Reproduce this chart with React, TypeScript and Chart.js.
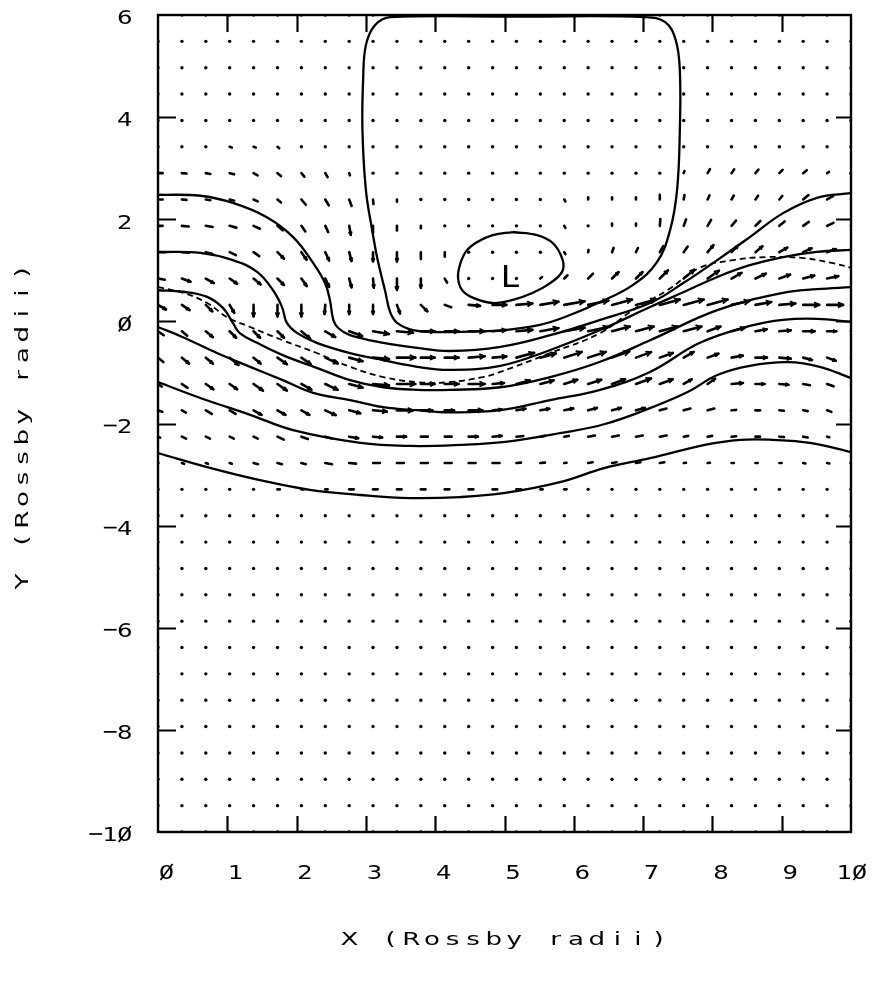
import React, { useEffect, useRef } from "react";
import { Chart, registerables } from "chart.js";

Chart.register(...registerables);

// ---------- axes ----------
const X_MIN = 0;
const X_MAX = 10;
const Y_MIN = -10;
const Y_MAX = 6;
const X_STEP = 1;
const Y_STEP = 2;
const X_TITLE = "X (Rossby radii)";
const Y_TITLE = "Y (Rossby radii)";
const LOW_LABEL = "L";
const LOW_POS = [5.08, 0.89];

// ---------- velocity grid (30 x 32 nodes) ----------
const GRID_X = [0, 0.345, 0.69, 1.034, 1.379, 1.724, 2.069, 2.414, 2.759, 3.103, 3.448, 3.793, 4.138, 4.483, 4.828, 5.172, 5.517, 5.862, 6.207, 6.552, 6.897, 7.241, 7.586, 7.931, 8.276, 8.621, 8.966, 9.31, 9.655, 10];
const GRID_Y = [6, 5.484, 4.968, 4.452, 3.935, 3.419, 2.903, 2.387, 1.871, 1.355, 0.839, 0.323, -0.194, -0.71, -1.226, -1.742, -2.258, -2.774, -3.29, -3.806, -4.323, -4.839, -5.355, -5.871, -6.387, -6.903, -7.419, -7.935, -8.452, -8.968, -9.484, -10];

// flow direction (degrees, counter-clockwise from east) and speed for the rows that move;
// every other node is at rest (drawn as a dot)
const FLOW_ROWS = [
  { row: 5, angle: [0, 0, 0, -20, -20, -40, 0, 0, 0, 0, 0, 0, 0, 0, 0, 0, 0, 0, 0, 0, 0, 0, 0, 0, 0, 0, 0, 0, 0, 0],
    speed: [0, 0, 0, 1, 1, 1, 0, 0, 0, 0, 0, 0, 0, 0, 0, 0, 0, 0, 0, 0, 0, 0, 0, 0, 0, 0, 0, 0, 0, 0] },
  { row: 6, angle: [0, -5, -10, -15, -30, -40, -50, -60, -70, 0, 0, 0, 0, 0, 0, 0, 0, 0, 0, 0, 0, 0, 70, 60, 55, 50, 45, 40, 35, 30],
    speed: [2, 2, 2, 2, 2, 2, 2, 2, 1, 0, 0, 0, 0, 0, 0, 0, 0, 0, 0, 0, 0, 0, 1, 2, 2, 2, 2, 2, 1, 0] },
  { row: 7, angle: [0, -5, -10, -15, -25, -40, -50, -60, -70, -85, -90, 0, 0, 0, 0, 0, 0, -60, 90, 90, 90, 90, 80, 65, 60, 55, 50, 40, 30, 25],
    speed: [2, 2, 2, 2, 2, 2, 3, 3, 3, 2, 1, 0, 0, 0, 0, 0, 0, 1, 1, 1, 1, 2, 2, 2, 2, 2, 2, 3, 3, 2] },
  { row: 8, angle: [0, -5, -10, -15, -25, -40, -55, -65, -80, -90, -90, -90, 0, 0, 0, 0, 0, -60, 0, 90, 90, 85, 70, 60, 50, 45, 40, 35, 25, 20],
    speed: [2, 3, 3, 3, 3, 3, 3, 3, 4, 3, 2, 1, 0, 0, 0, 0, 0, 1, 0, 1, 1, 3, 3, 3, 3, 3, 3, 3, 3, 3] },
  { row: 9, angle: [0, -5, -15, -25, -35, -45, -55, -65, -75, -90, -90, -90, -90, 0, 0, 0, 0, -60, 80, 70, 65, 60, 55, 50, 45, 40, 30, 25, 20, 15],
    speed: [3, 3, 3, 3, 3, 4, 4, 4, 4, 4, 4, 3, 2, 0, 0, 0, 0, 1, 1, 2, 2, 3, 3, 4, 4, 4, 4, 4, 4, 3] },
  { row: 10, angle: [-10, -20, -30, -35, -40, -45, -55, -65, -75, -85, -90, -90, -60, 0, 0, 0, 40, 45, 45, 45, 45, 45, 40, 35, 30, 25, 20, 15, 12, 10],
    speed: [3, 4, 4, 4, 4, 4, 4, 4, 4, 4, 5, 4, 2, 0, 0, 0, 1, 2, 3, 4, 4, 5, 6, 6, 5, 5, 5, 5, 5, 4] },
  { row: 11, angle: [-30, -35, -45, -60, -90, -90, -90, -95, -90, -90, -70, -45, -20, -5, 0, 5, 10, 10, 12, 15, 15, 15, 15, 15, 12, 10, 5, 0, 0, 0],
    speed: [4, 4, 4, 4, 5, 5, 5, 4, 4, 4, 4, 4, 3, 5, 6, 7, 8, 9, 9, 9, 9, 9, 9, 9, 8, 7, 7, 7, 7, 6] },
  { row: 12, angle: [-35, -40, -40, -45, -45, -45, -40, -30, -20, -10, -5, 0, 0, 0, 5, 5, 10, 10, 12, 15, 15, 15, 15, 20, 15, 10, 5, 0, 0, 0],
    speed: [3, 3, 4, 4, 4, 4, 5, 5, 6, 7, 7, 6, 6, 7, 6, 7, 8, 9, 9, 8, 8, 8, 8, 6, 6, 5, 5, 5, 4, 4] },
  { row: 13, angle: [-40, -40, -40, -40, -40, -35, -35, -25, -15, -5, 0, 0, 0, 5, 5, 15, 15, 18, 18, 20, 20, 20, 30, 20, 10, 0, -5, -15, -20, -20],
    speed: [3, 4, 4, 5, 4, 5, 5, 6, 6, 7, 8, 6, 6, 7, 6, 8, 7, 8, 8, 8, 7, 6, 5, 5, 5, 5, 5, 4, 4, 4] },
  { row: 14, angle: [-35, -35, -35, -35, -35, -35, -30, -25, -15, -5, 0, 0, 0, 0, 5, 15, 15, 18, 18, 20, 20, 20, 30, 35, 5, 0, -5, -10, -20, -20],
    speed: [2, 3, 4, 4, 5, 5, 5, 6, 6, 7, 8, 6, 6, 7, 5, 6, 6, 6, 6, 6, 7, 6, 4, 4, 5, 4, 4, 3, 3, 3] },
  { row: 15, angle: [-20, -30, -30, -30, -30, -30, -30, -25, -15, -5, 0, 0, 0, 0, 5, 10, 10, 12, 15, 15, 15, 15, 15, 15, 5, 0, -5, -10, -20, -20],
    speed: [2, 2, 3, 3, 4, 4, 4, 5, 5, 6, 7, 5, 4, 6, 4, 4, 4, 4, 4, 4, 4, 3, 3, 3, 2, 2, 2, 2, 2, 2] },
  { row: 16, angle: [-25, -25, -25, -25, -25, -25, -20, -15, -10, -5, 0, 0, 0, 0, 5, 5, 10, 10, 10, 10, 10, 10, 10, 10, 5, 0, -5, -10, -15, -15],
    speed: [1, 2, 2, 2, 2, 3, 3, 3, 4, 4, 4, 3, 3, 4, 4, 3, 2, 2, 3, 3, 3, 3, 2, 2, 2, 2, 2, 2, 1, 1] },
  { row: 17, angle: [-20, -20, -20, -20, -15, -15, -15, -10, -5, 0, 0, 0, 0, 0, 0, 5, 5, 5, 10, 10, 10, 10, 5, 5, 0, 0, 0, -10, -10, 0],
    speed: [0, 1, 1, 1, 2, 2, 2, 3, 3, 3, 3, 3, 3, 3, 3, 2, 2, 1, 2, 2, 2, 2, 1, 1, 1, 1, 1, 1, 1, 0] },
  { row: 18, angle: [0, 0, 0, 0, 0, 0, 0, 0, 0, 0, 0, 0, 0, 0, 0, 0, 0, 0, 0, 0, 0, 0, 0, 0, 0, 0, 0, 0, 0, 0],
    speed: [0, 0, 0, 0, 0, 1, 1, 1, 2, 2, 2, 2, 2, 2, 2, 2, 1, 1, 0, 0, 0, 0, 0, 0, 0, 0, 0, 0, 0, 0] },
];

// ---------- contours (x, y in Rossby radii) ----------
const CONTOUR_TOP = [[5.2, 5.97], [3.35, 5.96], [3.13, 5.8], [3.0, 5.41], [2.96, 4.73], [2.95, 3.75], [3.0, 2.57], [3.09, 1.79], [3.17, 1.2], [3.28, 0.58], [3.35, 0.18], [3.45, -0.03], [3.68, -0.17], [4.07, -0.21], [4.5, -0.2], [5.01, -0.17], [5.51, -0.07], [5.9, 0.1], [6.38, 0.38], [6.85, 0.71], [7.2, 1.16], [7.39, 1.79], [7.49, 2.57], [7.53, 3.75], [7.53, 4.92], [7.47, 5.51], [7.32, 5.86], [7.03, 5.96], [5.2, 5.97]];
const CONTOUR_LOW = [[5.12, 1.75], [5.47, 1.69], [5.7, 1.53], [5.84, 1.2], [5.83, 0.97], [5.66, 0.75], [5.41, 0.56], [5.12, 0.42], [4.83, 0.36], [4.55, 0.46], [4.39, 0.61], [4.33, 0.85], [4.36, 1.12], [4.45, 1.38], [4.6, 1.55], [4.83, 1.69], [5.12, 1.75]];
const CONTOUR_1 = [[0, 2.48], [0.61, 2.46], [1.08, 2.32], [1.57, 2.04], [1.95, 1.65], [2.24, 1.14], [2.41, 0.75], [2.48, 0.42], [2.53, 0.03], [2.6, -0.13], [2.77, -0.27], [3.25, -0.42], [3.74, -0.52], [4.21, -0.58], [4.94, -0.5], [5.66, -0.27], [6.38, 0.03], [7.1, 0.36], [7.58, 0.75], [8.07, 1.2], [8.54, 1.65], [9.02, 2.12], [9.51, 2.42], [10, 2.51]];
const CONTOUR_2 = [[0, 1.36], [0.61, 1.34], [1.08, 1.2], [1.43, 0.97], [1.66, 0.61], [1.79, 0.28], [1.86, -0.03], [2.01, -0.23], [2.29, -0.42], [2.77, -0.62], [3.25, -0.76], [3.74, -0.89], [4.21, -0.95], [4.94, -0.87], [5.66, -0.56], [6.38, -0.17], [7.1, 0.28], [7.58, 0.57], [8.07, 0.87], [8.54, 1.1], [9.02, 1.26], [9.51, 1.36], [10, 1.4]];
const CONTOUR_3 = [[0, 0.61], [0.36, 0.58], [0.71, 0.48], [0.94, 0.26], [1.08, -0.03], [1.18, -0.23], [1.43, -0.42], [1.8, -0.66], [2.29, -0.91], [2.77, -1.15], [3.25, -1.29], [3.74, -1.34], [4.21, -1.34], [4.94, -1.29], [5.66, -1.09], [6.38, -0.79], [7.1, -0.37], [8.07, 0.22], [9.02, 0.56], [9.51, 0.63], [10, 0.67]];
const CONTOUR_4 = [[0, -0.11], [0.36, -0.31], [0.85, -0.62], [1.33, -0.89], [1.8, -1.15], [2.24, -1.4], [2.77, -1.54], [3.25, -1.68], [3.74, -1.74], [4.21, -1.78], [4.94, -1.74], [5.66, -1.54], [6.38, -1.34], [7.1, -0.99], [7.82, -0.42], [8.54, -0.09], [9.02, 0.03], [9.51, 0.05], [10, -0.01]];
const CONTOUR_5 = [[0, -1.19], [0.61, -1.5], [1.33, -1.83], [1.95, -2.13], [2.92, -2.38], [3.64, -2.44], [4.36, -2.42], [5.01, -2.36], [5.8, -2.19], [6.45, -2.01], [7.1, -1.7], [7.65, -1.38], [8.07, -1.05], [8.54, -0.87], [9.09, -0.8], [9.55, -0.89], [10, -1.11]];
const CONTOUR_6 = [[0, -2.58], [0.75, -2.87], [1.47, -3.11], [2.19, -3.3], [2.92, -3.4], [3.64, -3.46], [4.36, -3.44], [5.01, -3.36], [5.8, -3.15], [6.45, -2.87], [7.1, -2.68], [7.89, -2.42], [8.4, -2.32], [8.86, -2.32], [9.41, -2.38], [10, -2.56]];
const DASHED_LINE = [[0, 0.67], [0.36, 0.56], [0.71, 0.36], [1.0, 0.08], [1.33, -0.11], [1.8, -0.37], [2.29, -0.62], [2.77, -0.89], [3.25, -1.09], [3.74, -1.19], [4.21, -1.19], [4.69, -1.09], [4.94, -0.99], [5.66, -0.62], [6.38, -0.23], [6.85, 0.22], [7.35, 0.61], [7.82, 1.05], [8.3, 1.2], [8.79, 1.26], [9.31, 1.24], [9.74, 1.14], [10, 1.05]];

const SOLID_CONTOURS = [CONTOUR_TOP, CONTOUR_LOW, CONTOUR_1, CONTOUR_2, CONTOUR_3, CONTOUR_4, CONTOUR_5, CONTOUR_6];

// ---------- styling ----------
const INK = "#000";
const FONT = "'DejaVu Sans', 'Liberation Sans', sans-serif";
const VEC_PX = 2.3;

// draw one glyph of the plotter-style lettering, widened horizontally by `wide`
function drawChar(ctx: CanvasRenderingContext2D, ch: string, cx: number, cy: number, fs: number, wide: number) {
  if (ch === "-") {
    ctx.save();
    ctx.lineWidth = Math.max(1.6, fs * 0.085);
    ctx.beginPath();
    ctx.moveTo(cx - fs * 0.32, cy);
    ctx.lineTo(cx + fs * 0.32, cy);
    ctx.stroke();
    ctx.restore();
    return;
  }
  ctx.save();
  ctx.translate(cx, cy + fs * 0.365);
  ctx.scale(wide, 1);
  ctx.fillText(ch, 0, 0);
  ctx.restore();
  if (ch === "0") {
    ctx.save();
    ctx.lineWidth = Math.max(1.4, fs * 0.085);
    ctx.beginPath();
    ctx.moveTo(cx - fs * 0.3, cy + fs * 0.4);
    ctx.lineTo(cx + fs * 0.3, cy - fs * 0.4);
    ctx.stroke();
    ctx.restore();
  }
}

function monoText(ctx: CanvasRenderingContext2D, s: string, x: number, cy: number, pitch: number, fs: number, wide: number, align: "left" | "right" | "center") {
  const w = s.length * pitch;
  const x0 = align === "left" ? x : align === "right" ? x - w : x - w / 2;
  ctx.textAlign = "center";
  ctx.textBaseline = "alphabetic";
  for (let i = 0; i < s.length; i++) {
    if (s[i] === " ") continue;
    drawChar(ctx, s[i], x0 + pitch * (i + 0.5), cy, fs, wide);
  }
}

const fieldPlugin = {
  id: "velocityField",
  beforeDatasetsDraw(chart: any) {
    const { ctx, chartArea: a } = chart;
    const sx = chart.scales.x;
    const sy = chart.scales.y;
    ctx.save();
    ctx.beginPath();
    ctx.rect(a.left, a.top, a.right - a.left, a.bottom - a.top);
    ctx.clip();
    ctx.strokeStyle = INK;
    ctx.fillStyle = INK;
    ctx.lineCap = "round";
    ctx.lineJoin = "round";
    for (let j = 0; j < GRID_Y.length; j++) {
      const row = FLOW_ROWS.find((r) => r.row === j);
      for (let i = 0; i < GRID_X.length; i++) {
        const px = sx.getPixelForValue(GRID_X[i]);
        const py = sy.getPixelForValue(GRID_Y[j]);
        const sp = row ? row.speed[i] : 0;
        if (!sp) {
          ctx.beginPath();
          ctx.arc(px, py, 1.7, 0, Math.PI * 2);
          ctx.fill();
          continue;
        }
        const ang = ((row ? row.angle[i] : 0) * Math.PI) / 180;
        const L = sp * VEC_PX;
        const ex = px + L * Math.cos(ang);
        const ey = py - L * Math.sin(ang);
        ctx.lineWidth = 2.6;
        ctx.beginPath();
        ctx.moveTo(px, py);
        ctx.lineTo(ex, ey);
        ctx.stroke();
        if (L >= 9) {
          const h = Math.min(5.5, L * 0.32);
          ctx.lineWidth = 1.8;
          for (const s of [-1, 1]) {
            const b = ang + Math.PI - s * 0.45;
            ctx.beginPath();
            ctx.moveTo(ex, ey);
            ctx.lineTo(ex + h * Math.cos(b), ey - h * Math.sin(b));
            ctx.stroke();
          }
        }
      }
    }
    ctx.restore();
  },
};

const framePlugin = {
  id: "plotterFrame",
  afterDraw(chart: any) {
    const { ctx, chartArea: a } = chart;
    const sx = chart.scales.x;
    const sy = chart.scales.y;
    ctx.save();
    ctx.strokeStyle = INK;
    ctx.fillStyle = INK;
    ctx.lineCap = "butt";
    // frame
    ctx.lineWidth = 2.4;
    ctx.strokeRect(a.left, a.top, a.right - a.left, a.bottom - a.top);
    // inward ticks
    ctx.lineWidth = 2.2;
    for (const t of sx.ticks) {
      if (t.value <= X_MIN || t.value >= X_MAX) continue;
      const px = Math.round(sx.getPixelForValue(t.value)) + 0.5;
      ctx.beginPath();
      ctx.moveTo(px, a.bottom);
      ctx.lineTo(px, a.bottom - 16);
      ctx.moveTo(px, a.top);
      ctx.lineTo(px, a.top + 17);
      ctx.stroke();
    }
    for (const t of sy.ticks) {
      if (t.value <= Y_MIN || t.value >= Y_MAX) continue;
      const py = Math.round(sy.getPixelForValue(t.value)) + 0.5;
      ctx.beginPath();
      ctx.moveTo(a.left, py);
      ctx.lineTo(a.left + 18, py);
      ctx.moveTo(a.right, py);
      ctx.lineTo(a.right - 15, py);
      ctx.stroke();
    }
    // tick labels
    const fs = 20;
    ctx.font = `${fs}px ${FONT}`;
    for (const t of sx.ticks) {
      const px = sx.getPixelForValue(t.value);
      monoText(ctx, String(t.value), px + 16, 872, 15, fs, 1.22, "right");
    }
    for (const t of sy.ticks) {
      const py = sy.getPixelForValue(t.value);
      monoText(ctx, String(t.value), 132, py + 2, 14.5, fs, 1.22, "right");
    }
    // axis titles
    const tfs = 18;
    ctx.font = `${tfs}px ${FONT}`;
    monoText(ctx, X_TITLE, 504, 938, 20.6, tfs, 1.45, "center");
    ctx.save();
    ctx.translate(21, 427);
    ctx.rotate(-Math.PI / 2);
    monoText(ctx, Y_TITLE, 0, 0, 20.6, tfs, 1.45, "center");
    ctx.restore();
    // low marker
    const lfs = 30;
    ctx.font = `${lfs}px ${FONT}`;
    monoText(ctx, LOW_LABEL, sx.getPixelForValue(LOW_POS[0]), sy.getPixelForValue(LOW_POS[1]), 20, lfs, 1.1, "center");
    ctx.restore();
  },
};

export default function App() {
  const ref = useRef<HTMLCanvasElement>(null);
  useEffect(() => {
    document.body.style.margin = "0";
    const toPts = (arr: number[][]) => arr.map((p) => ({ x: p[0], y: p[1] }));
    const datasets: any[] = SOLID_CONTOURS.map((c) => ({
      data: toPts(c),
      showLine: true,
      borderColor: INK,
      borderWidth: 2.3,
      pointRadius: 0,
      tension: 0.4,
      fill: false,
    }));
    datasets.push({
      data: toPts(DASHED_LINE),
      showLine: true,
      borderColor: INK,
      borderWidth: 1.8,
      borderDash: [6, 4],
      pointRadius: 0,
      tension: 0.4,
      fill: false,
    });
    const chart = new Chart(ref.current as HTMLCanvasElement, {
      type: "scatter",
      data: { datasets },
      options: {
        responsive: false,
        animation: false,
        layout: { padding: { left: 158, top: 15, right: 21, bottom: 154 } },
        plugins: { legend: { display: false }, tooltip: { enabled: false } },
        scales: {
          x: {
            type: "linear",
            min: X_MIN,
            max: X_MAX,
            ticks: { display: false, stepSize: X_STEP },
            grid: { display: false, drawTicks: false },
            border: { display: false },
            afterFit: (s: any) => { s.height = 0; },
          },
          y: {
            type: "linear",
            min: Y_MIN,
            max: Y_MAX,
            ticks: { display: false, stepSize: Y_STEP },
            grid: { display: false, drawTicks: false },
            border: { display: false },
            afterFit: (s: any) => { s.width = 0; },
          },
        },
      } as any,
      plugins: [fieldPlugin, framePlugin],
    });
    return () => chart.destroy();
  }, []);
  return <canvas ref={ref} width={872} height={986} style={{ display: "block" }} />;
}
